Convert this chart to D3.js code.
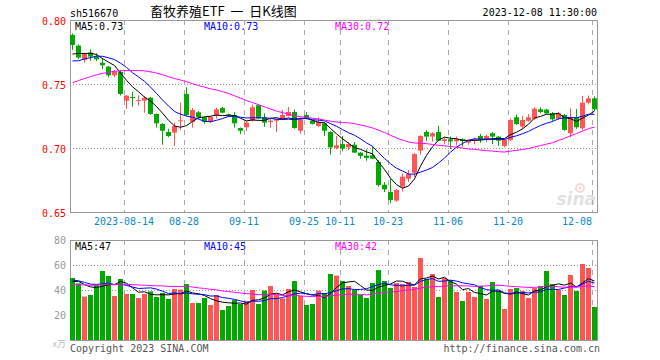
<!DOCTYPE html>
<html><head><meta charset="utf-8">
<script src="https://cdn.jsdelivr.net/npm/d3@7"></script>
<style>body{margin:0;background:#fff}svg{display:block}</style>
</head><body>
<svg id="c" width="660" height="360"></svg>
<script>
// ---- data (2023-08-01 .. 2023-12-08, 88 trading days) ----
const openP = [0.7883,0.7800,0.7688,0.7745,0.7714,0.7666,0.7635,0.7568,0.7594,0.7370,
0.7398,0.7368,0.7370,0.7393,0.7266,0.7188,0.7125,0.7120,0.7210,0.7422,
0.7205,0.7279,0.7240,0.7205,0.7255,0.7313,0.7262,0.7258,0.7156,0.7162,
0.7213,0.7334,0.7240,0.7203,0.7213,0.7224,0.7250,0.7281,0.7135,0.7258,
0.7213,0.7172,0.7193,0.7125,0.7000,0.7031,0.7005,0.7026,0.6964,0.6940,
0.6943,0.6891,0.6713,0.6656,0.6589,0.6698,0.6760,0.6807,0.6979,0.7125,
0.7089,0.7125,0.7055,0.7068,0.7052,0.7068,0.7042,0.7055,0.7094,0.7063,
0.7115,0.7089,0.7016,0.7063,0.7240,0.7167,0.7213,0.7229,0.7302,0.7300,
0.7271,0.7229,0.7258,0.7115,0.7240,0.7154,0.7354,0.7388];
const highP = [0.7895,0.7810,0.7745,0.7770,0.7740,0.7701,0.7640,0.7610,0.7610,0.7415,
0.7438,0.7412,0.7405,0.7400,0.7270,0.7195,0.7150,0.7198,0.7354,0.7474,
0.7313,0.7290,0.7245,0.7250,0.7315,0.7320,0.7268,0.7280,0.7160,0.7215,
0.7340,0.7340,0.7270,0.7230,0.7230,0.7300,0.7320,0.7300,0.7240,0.7280,
0.7218,0.7240,0.7200,0.7130,0.7094,0.7094,0.7047,0.7047,0.6970,0.6990,
0.7010,0.6906,0.6734,0.6760,0.6680,0.6800,0.6828,0.6960,0.7100,0.7141,
0.7125,0.7172,0.7080,0.7089,0.7089,0.7075,0.7065,0.7080,0.7110,0.7105,
0.7125,0.7094,0.7070,0.7230,0.7262,0.7250,0.7265,0.7318,0.7318,0.7305,
0.7282,0.7282,0.7265,0.7310,0.7305,0.7406,0.7410,0.7404];
const lowP = [0.7766,0.7693,0.7666,0.7682,0.7680,0.7615,0.7552,0.7552,0.7410,0.7305,
0.7323,0.7334,0.7276,0.7260,0.7159,0.7026,0.7085,0.7016,0.7141,0.7250,
0.7159,0.7225,0.7190,0.7195,0.7230,0.7270,0.7240,0.7159,0.7110,0.7135,
0.7205,0.7225,0.7165,0.7158,0.7125,0.7220,0.7245,0.7150,0.7112,0.7224,
0.7183,0.7165,0.7094,0.6948,0.6990,0.6974,0.6984,0.6960,0.6917,0.6901,
0.6912,0.6698,0.6656,0.6568,0.6580,0.6660,0.6734,0.6775,0.6948,0.7057,
0.7050,0.7057,0.7030,0.6990,0.7021,0.7010,0.7025,0.7030,0.7040,0.7045,
0.7030,0.7015,0.7005,0.7055,0.7180,0.7150,0.7205,0.7220,0.7270,0.7265,
0.7210,0.7220,0.7135,0.7084,0.7150,0.7140,0.7340,0.7290];
const closeP = [0.7805,0.7706,0.7734,0.7714,0.7693,0.7646,0.7568,0.7599,0.7422,0.7409,
0.7393,0.7374,0.7393,0.7266,0.7193,0.7135,0.7094,0.7172,0.7216,0.7258,
0.7297,0.7240,0.7205,0.7242,0.7302,0.7276,0.7256,0.7193,0.7135,0.7198,
0.7318,0.7232,0.7198,0.7213,0.7224,0.7258,0.7281,0.7156,0.7224,0.7234,
0.7188,0.7203,0.7135,0.7005,0.7021,0.6995,0.7031,0.6964,0.6938,0.6922,
0.6917,0.6711,0.6677,0.6594,0.6672,0.6776,0.6797,0.6953,0.7094,0.7089,
0.7115,0.7057,0.7068,0.7052,0.7068,0.7055,0.7055,0.7068,0.7063,0.7094,
0.7089,0.7057,0.7063,0.7219,0.7188,0.7219,0.7240,0.7307,0.7281,0.7271,
0.7224,0.7271,0.7141,0.7240,0.7162,0.7354,0.7388,0.7302];
const volume = [49.6,45.3,34.7,36,44,55.2,51.2,35.2,48.8,36.8,
36.8,33.6,36.8,38.9,34.4,37.6,32.8,40.8,40.3,44.8,
29.6,29.6,33.6,28,36,24,27.2,32,28.8,31.2,
40,28.8,39.5,43.2,36,33.3,40.8,47.2,35.2,28,
28.8,39.5,37.6,52.8,51.5,47.2,43.2,40,36,33.6,
45.6,56,47.2,41.6,45.6,44.8,46.4,42.4,65.6,48.8,
52.8,34.4,49.6,48,38.4,31.2,38.4,34.4,43.2,32.8,
46.4,39.2,24.8,40.8,41.6,39.2,33.6,41.6,43.2,55.2,
44.8,40,36,52,39.2,60.8,57.6,26.4];
// 29 sessions before the window (July 2023), only used to seed the moving averages
const priorClose = [0.722,0.725,0.728,0.726,0.730,0.733,0.731,0.735,0.734,0.737,0.740,
0.745,0.748,0.752,0.750,0.756,0.760,0.758,0.766,0.774,
0.770,0.758,0.762,0.757,0.7665,0.768,0.774,0.770,0.7745];
const priorVolume = [38,41,44,40,39,43,45,42,40,44,41,43,46,42,39,44,43,41,45,40,
52,47,50,46,51.5,44,48,45,46.9];
const tickIndex = [9,19,29,39,45,53,63,73,87];
const tickLabel = ["2023-08-14","08-28","09-11","09-25","10-11","10-23","11-06","11-20","12-08"];
const priceTicks = [0.80,0.75,0.70,0.65];
const volTicks = [80,60,40,20];
const maPeriods = [5,10,30];
const maColors = ["#000000","#0000ff","#ff00ff"];

// ---- drawing ----
const svg = d3.select("#c");
const N = closeP.length;
const L = 70, R = 597;
const x = d3.scaleLinear().domain([0, N]).range([L, L + 6 * N]);
const yP = d3.scaleLinear().domain([0.65, 0.80]).range([212, 20]);
const yV = d3.scaleLinear().domain([0, 80]).range([340, 240]);
const RED = "#ff5555", GREEN = "#00a800";
const mono = "DejaVu Sans Mono, monospace";

function ma(prior, data, n) {
  const all = prior.concat(data), off = prior.length;
  return data.map((_, i) => d3.mean(all.slice(i + off - n + 1, i + off + 1)));
}
const up = i => closeP[i] >= openP[i];

// header
svg.append("text").attr("x", 70).attr("y", 16.5).attr("font-family", mono).attr("font-size", 10)
  .attr("fill", "#000").text("sh516670");
svg.append("text").attr("x", 150).attr("y", 16).attr("font-family", "Noto Sans CJK SC, sans-serif")
  .attr("font-size", 13).attr("fill", "#000").style("white-space", "pre").text("畜牧养殖ETF  一  日K线图");
svg.append("text").attr("x", 597).attr("y", 16).attr("text-anchor", "end").attr("font-family", mono)
  .attr("font-size", 10).attr("fill", "#000").text("2023-12-08 11:30:00");

// watermark
const wm = svg.append("g").attr("opacity", 0.55);
wm.append("circle").attr("cx", 580).attr("cy", 188).attr("r", 4).attr("fill", "none").attr("stroke", "#f2b8b8").attr("stroke-width", 2);
wm.append("circle").attr("cx", 580).attr("cy", 188).attr("r", 1.5).attr("fill", "#f2b8b8");
wm.append("text").attr("x", 596).attr("y", 205).attr("text-anchor", "end").attr("font-family", "DejaVu Sans, sans-serif")
  .attr("font-size", 17).attr("font-weight", "bold").attr("font-style", "italic").attr("fill", "#c8c8c8").text("sina");

function panel(y0, y1, yScale, gridTicks) {
  const g = svg.append("g");
  g.selectAll("line.h").data(gridTicks).join("line")
    .attr("x1", L).attr("x2", R).attr("y1", d => Math.round(yScale(d)) + 0.5).attr("y2", d => Math.round(yScale(d)) + 0.5)
    .attr("stroke", "#999").attr("stroke-dasharray", "1,2");
  g.selectAll("line.v").data(tickIndex).join("line")
    .attr("x1", d => x(d) + 0.5).attr("x2", d => x(d) + 0.5).attr("y1", y0).attr("y2", y1)
    .attr("stroke", "#aaa").attr("stroke-dasharray", "5,5");
  g.append("rect").attr("x", L + 0.5).attr("y", y0 + 0.5).attr("width", R - L).attr("height", y1 - y0)
    .attr("fill", "none").attr("stroke", "#999");
  return g;
}
panel(20, 212, yP, [0.75, 0.70]);
panel(240, 340, yV, [60, 40, 20]);

// axis labels
svg.selectAll("text.py").data(priceTicks).join("text")
  .attr("x", 66).attr("y", d => yP(d) + 4.5).attr("text-anchor", "end")
  .attr("font-family", mono).attr("font-size", 10).attr("fill", "#ff0000").text(d => d.toFixed(2));
svg.selectAll("text.vy").data(volTicks).join("text")
  .attr("x", 66).attr("y", d => yV(d) + 3.5).attr("text-anchor", "end")
  .attr("font-family", mono).attr("font-size", 10).attr("fill", "#999").text(d => d);
svg.append("text").attr("x", 66).attr("y", 347).attr("text-anchor", "end")
  .attr("font-family", "Noto Sans CJK SC, sans-serif").attr("font-size", 9).attr("fill", "#bbb").text("x万");

// date labels
svg.selectAll("text.dx").data(tickIndex).join("text")
  .attr("x", d => x(d))
  .attr("text-anchor", (d, i) => i === tickIndex.length - 1 ? "end" : "middle")
  .attr("y", 225).attr("font-family", mono).attr("font-size", 10).attr("fill", "#0a88cc")
  .text((d, i) => tickLabel[i]);

// candles
const idx = d3.range(N);
const cg = svg.append("g");
cg.selectAll("line.w").data(idx).join("line")
  .attr("x1", i => x(i) + 2.5).attr("x2", i => x(i) + 2.5)
  .attr("y1", i => yP(highP[i])).attr("y2", i => yP(lowP[i]))
  .attr("stroke", i => up(i) ? RED : GREEN);
cg.selectAll("rect").data(idx).join("rect")
  .attr("x", i => x(i)).attr("width", 5)
  .attr("y", i => yP(Math.max(openP[i], closeP[i])))
  .attr("height", i => Math.max(1, Math.abs(yP(openP[i]) - yP(closeP[i]))))
  .attr("fill", i => up(i) ? RED : GREEN);

// volume bars
svg.append("g").selectAll("rect").data(idx).join("rect")
  .attr("x", i => x(i)).attr("width", 5)
  .attr("y", i => yV(volume[i])).attr("height", i => yV(0) - yV(volume[i]))
  .attr("fill", i => up(i) ? RED : GREEN);

// moving averages
const labelX = [75, 204, 335];
maPeriods.forEach((n, k) => {
  const mp = ma(priorClose, closeP, n);
  const mv = ma(priorVolume, volume, n);
  svg.append("path").datum(mp).attr("fill", "none").attr("stroke", maColors[k]).attr("stroke-width", 1)
    .attr("d", d3.line().x((d, i) => x(i) + 2.5).y(d => yP(d)));
  svg.append("path").datum(mv).attr("fill", "none").attr("stroke", maColors[k]).attr("stroke-width", 1)
    .attr("d", d3.line().x((d, i) => x(i) + 2.5).y(d => yV(d)));
  svg.append("text").attr("x", labelX[k]).attr("y", 29.5).attr("font-family", mono).attr("font-size", 10)
    .attr("fill", maColors[k]).text("MA" + n + ":" + mp[N - 1].toFixed(2));
  svg.append("text").attr("x", labelX[k]).attr("y", 250).attr("font-family", mono).attr("font-size", 10)
    .attr("fill", maColors[k]).text("MA" + n + ":" + Math.floor(mv[N - 1]));
});

// footer
svg.append("text").attr("x", 70).attr("y", 352).attr("font-family", mono).attr("font-size", 10)
  .attr("fill", "#555").text("Copyright 2023 SINA.COM");
svg.append("text").attr("x", 600).attr("y", 352).attr("text-anchor", "end").attr("font-family", mono)
  .attr("font-size", 10).attr("fill", "#555").text("http://finance.sina.com.cn");
</script>
</body></html>
